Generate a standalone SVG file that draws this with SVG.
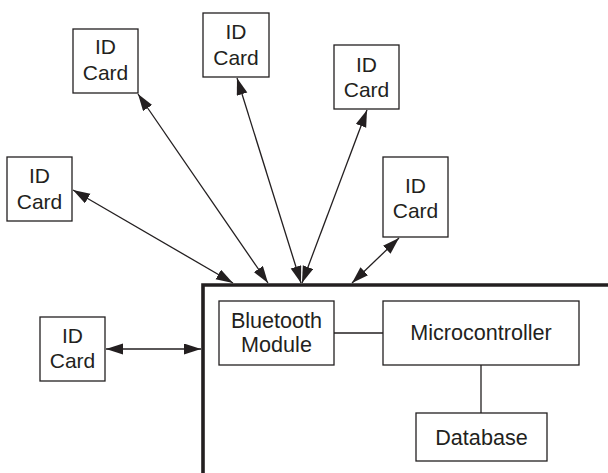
<svg xmlns="http://www.w3.org/2000/svg" width="608" height="473" viewBox="0 0 608 473">
<style>
.box{fill:#fff;stroke:#231f20;stroke-width:1.3}
.t{font-family:"Liberation Sans",Arial,sans-serif;font-size:21px;fill:#231f20;text-anchor:middle}
.t2{font-size:21.6px}
.c{stroke:#231f20;stroke-width:1.3;fill:none}
.a{stroke:#231f20;stroke-width:1.3;fill:none;marker-start:url(#ah);marker-end:url(#ah)}
.frame{stroke:#231f20;stroke-width:3.6;fill:none}
</style>
<defs>
<marker id="ah" markerUnits="userSpaceOnUse" markerWidth="18" markerHeight="12" refX="17" refY="5.5" orient="auto-start-reverse" viewBox="0 0 18 12">
<path d="M0,0 L17,5.5 L0,11 z" fill="#231f20"/>
</marker>
</defs>
<g id="frame"><path class="frame" d="M203 473 V285 H608"/></g>
<g id="connectors">
<line class="a" x1="73" y1="190" x2="233" y2="283"/>
<line class="a" x1="138" y1="94" x2="268" y2="283"/>
<line class="a" x1="237" y1="78" x2="301" y2="283"/>
<line class="a" x1="367" y1="110" x2="302" y2="283"/>
<line class="a" x1="399" y1="238" x2="352" y2="283"/>
<line class="a" x1="106" y1="349" x2="201" y2="349"/>
<line class="c" x1="334" y1="333" x2="383" y2="333"/>
<line class="c" x1="481" y1="365" x2="481" y2="413"/>
</g>
<g id="card-a"><rect class="box" x="73" y="29" width="65" height="64"/><text class="t" x="105.5" y="54">ID</text><text class="t" x="105.5" y="80">Card</text></g>
<g id="card-b"><rect class="box" x="203" y="13" width="66" height="64"/><text class="t" x="236" y="39">ID</text><text class="t" x="236" y="65">Card</text></g>
<g id="card-c"><rect class="box" x="7" y="157" width="65" height="64"/><text class="t" x="39.5" y="183">ID</text><text class="t" x="39.5" y="209">Card</text></g>
<g id="card-d"><rect class="box" x="334" y="45" width="65" height="64"/><text class="t" x="366.5" y="71.5">ID</text><text class="t" x="366.5" y="97">Card</text></g>
<g id="card-e"><rect class="box" x="383" y="157" width="65" height="80"/><text class="t" x="415.5" y="192.5">ID</text><text class="t" x="415.5" y="218">Card</text></g>
<g id="card-f"><rect class="box" x="40" y="317" width="65" height="64"/><text class="t" x="72.5" y="343">ID</text><text class="t" x="72.5" y="368">Card</text></g>
<g id="bluetooth"><rect class="box" x="219" y="301" width="115" height="64"/><text class="t t2" x="276.5" y="328">Bluetooth</text><text class="t t2" x="276.5" y="352">Module</text></g>
<g id="microcontroller"><rect class="box" x="383" y="301" width="196" height="64"/><text class="t t2" x="481" y="340">Microcontroller</text></g>
<g id="database"><rect class="box" x="416" y="413" width="131" height="48"/><text class="t t2" x="481.5" y="444.5">Database</text></g>
</svg>
